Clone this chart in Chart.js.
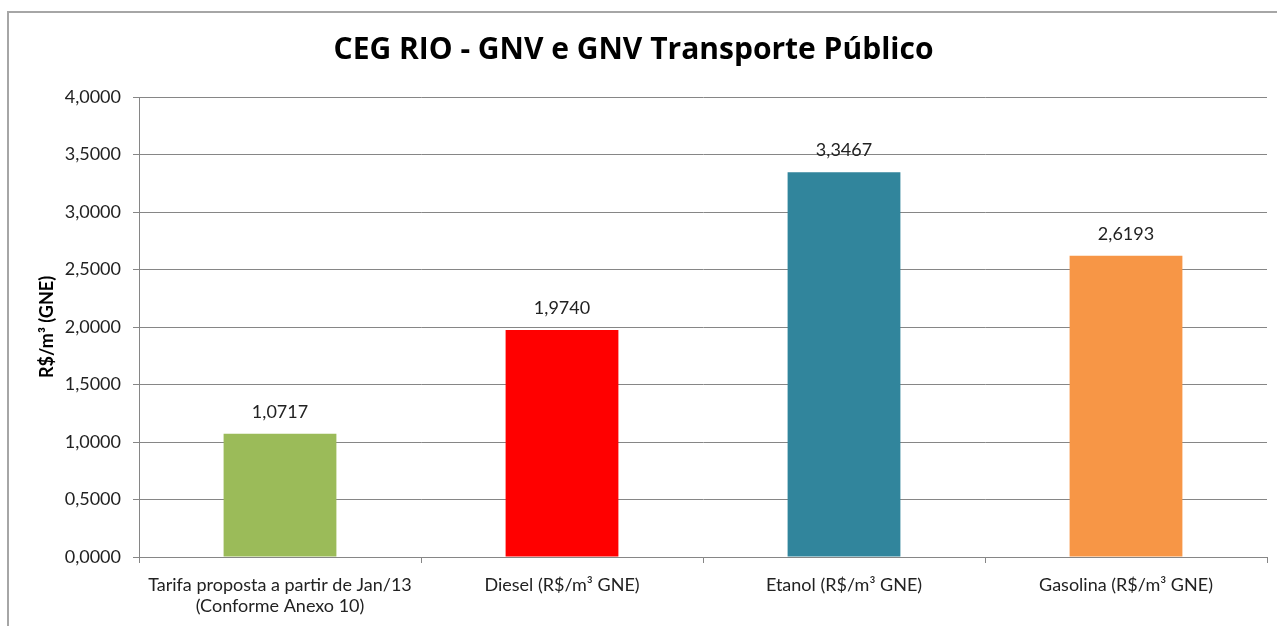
<!DOCTYPE html>
<html>
<head>
<meta charset="utf-8">
<script src="https://cdn.jsdelivr.net/npm/chart.js@4/dist/chart.umd.min.js"></script>
<style>
  html, body { margin: 0; padding: 0; background: #fff; }
  #wrap { position: relative; width: 1277px; height: 626px; }
</style>
</head>
<body>
<div id="wrap"><canvas id="grafico"></canvas></div>
<script>
// dados do gráfico
const categorias = [
    ['Tarifa proposta a partir de Jan/13', '(Conforme Anexo 10)'],
    'Diesel (R$/m³ GNE)',
    'Etanol (R$/m³ GNE)',
    'Gasolina (R$/m³ GNE)'
];
const valores = [1.0717, 1.9740, 3.3467, 2.6193];
const cores = ['#9BBB59', '#FF0000', '#31859C', '#F79646'];
const escalaMin = 0;
const escalaMax = 4;
const escalaPasso = 0.5;

const fonte = 'Lato, "Open Sans", sans-serif';
const fmt = v => v.toFixed(4).replace('.', ',');

// moldura cinza em volta do gráfico
const moldura = {
    id: 'moldura',
    beforeDraw(chart) {
        const c = chart.ctx;
        c.save();
        c.strokeStyle = '#a6a6a6';
        c.lineWidth = 2;
        c.strokeRect(8, 12, 1300, 700);
        c.restore();
    }
};

// rótulos de valor acima das barras
const rotulos = {
    id: 'rotulos',
    afterDatasetsDraw(chart) {
        const c = chart.ctx;
        const meta = chart.getDatasetMeta(0);
        c.save();
        c.font = '18px ' + fonte;
        c.fillStyle = '#222';
        c.textAlign = 'center';
        c.textBaseline = 'middle';
        meta.data.forEach((bar, i) => {
            c.fillText(fmt(valores[i]), bar.x, bar.y - 22);
        });
        c.restore();
    }
};

new Chart(document.getElementById('grafico'), {
    type: 'bar',
    data: {
        labels: categorias,
        datasets: [{
            data: valores,
            backgroundColor: cores,
            borderWidth: 0,
            categoryPercentage: 0.4,
            barPercentage: 1
        }]
    },
    options: {
        responsive: true,
        maintainAspectRatio: false,
        animation: false,
        layout: { padding: { top: 0, right: 10, bottom: 0, left: 0 } },
        plugins: {
            legend: { display: false },
            tooltip: { enabled: false },
            title: {
                display: true,
                text: 'CEG RIO - GNV e GNV Transporte Público',
                color: '#000',
                font: { family: '"Open Sans", sans-serif', size: 30, weight: 'bold' },
                padding: { top: 32, bottom: 29 }
            }
        },
        scales: {
            x: {
                grid: {
                    offset: true,
                    drawOnChartArea: false,
                    color: '#868686',
                    tickLength: 6
                },
                border: { color: '#868686' },
                ticks: {
                    color: '#222',
                    font: { family: fonte, size: 18 },
                    padding: 11,
                    maxRotation: 0,
                    autoSkip: false
                },
                afterFit(scale) { scale.height = 69; }
            },
            y: {
                min: escalaMin,
                max: escalaMax,
                grid: { color: '#868686', tickLength: 6 },
                border: { color: '#868686' },
                ticks: {
                    stepSize: escalaPasso,
                    color: '#222',
                    font: { family: fonte, size: 18 },
                    padding: 12,
                    callback: v => fmt(v)
                },
                title: {
                    display: true,
                    text: 'R$/m³ (GNE)',
                    color: '#000',
                    font: { family: fonte, size: 18, weight: 'bold' },
                    padding: { top: 36, bottom: 0 }
                },
                afterFit(scale) { scale.width = 139; }
            }
        }
    },
    plugins: [moldura, rotulos]
});
</script>
</body>
</html>
